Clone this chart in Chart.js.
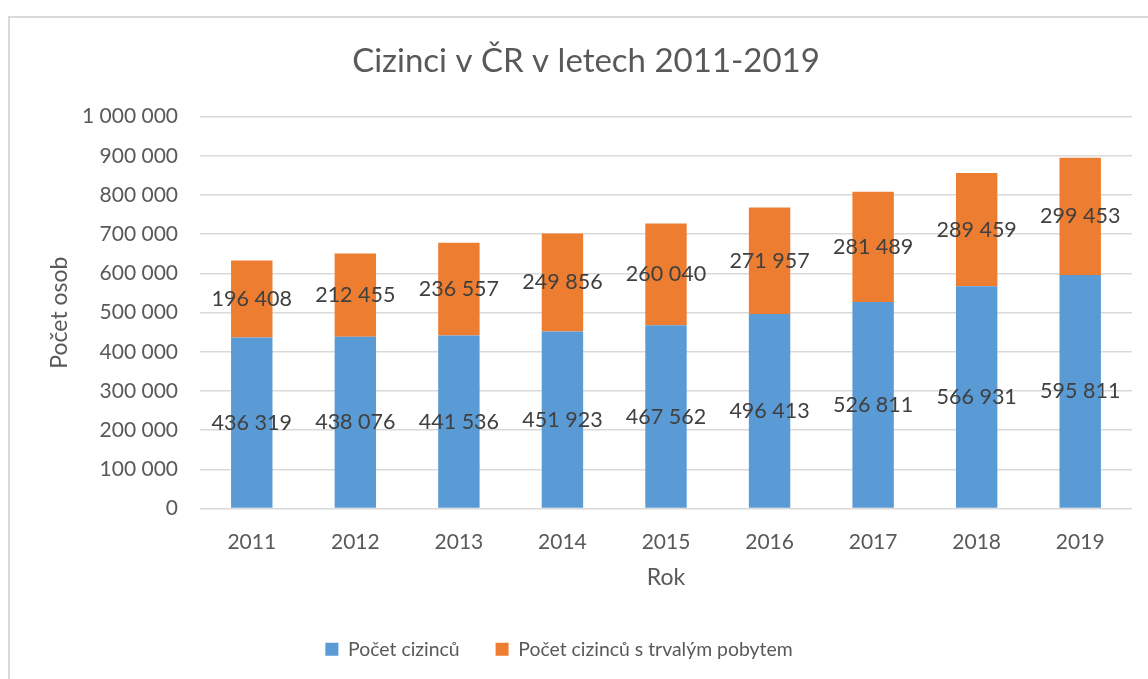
<!DOCTYPE html>
<html>
<head>
<meta charset="utf-8">
<script src="https://cdn.jsdelivr.net/npm/chart.js@4"></script>
<style>
  html, body { margin: 0; padding: 0; background: #ffffff; overflow: hidden; }
  #frame { position: absolute; left: 8px; top: 16px; width: 1200px; height: 700px; border: 2px solid #d9d9d9; box-sizing: border-box; }
  #wrap { position: absolute; left: 0; top: 0; width: 1148px; height: 679px; }
</style>
</head>
<body>
<div id="frame"></div>
<div id="wrap"><canvas id="c" width="1148" height="679"></canvas></div>
<script>
const categories = ['2011', '2012', '2013', '2014', '2015', '2016', '2017', '2018', '2019'];
const seriesNames = ['Počet cizinců', 'Počet cizinců s trvalým pobytem'];
const foreigners = [436319, 438076, 441536, 451923, 467562, 496413, 526811, 566931, 595811];
const permanent = [196408, 212455, 236557, 249856, 260040, 271957, 281489, 289459, 299453];
const titleText = 'Cizinci v ČR v letech 2011-2019';
const yTitle = 'Počet osob';
const xTitle = 'Rok';

const FONT = 'Lato';
function fmt(v) { return String(v).replace(/\B(?=(\d{3})+(?!\d))/g, ' '); }

const dataLabels = {
  id: 'dataLabels',
  afterDatasetsDraw(chart) {
    const ctx = chart.ctx;
    ctx.save();
    ctx.font = '21.5px ' + FONT;
    ctx.fillStyle = '#404040';
    ctx.textAlign = 'center';
    ctx.textBaseline = 'middle';
    chart.data.datasets.forEach((ds, di) => {
      const meta = chart.getDatasetMeta(di);
      meta.data.forEach((el, i) => {
        const y = (el.y + el.base) / 2;
        ctx.fillText(fmt(ds.data[i]), el.x, y);
      });
    });
    ctx.restore();
  }
};

const legendShift = {
  id: 'legendShift',
  afterLayout(chart) {
    if (chart.legend) { chart.legend.left -= 27; chart.legend.right -= 27; }
  }
};

new Chart(document.getElementById('c'), {
  type: 'bar',
  data: {
    labels: categories,
    datasets: [
      { label: seriesNames[0], data: foreigners, backgroundColor: '#5B9BD5', borderWidth: 0 },
      { label: seriesNames[1], data: permanent, backgroundColor: '#ED7D31', borderWidth: 0 }
    ]
  },
  options: {
    responsive: false,
    animation: false,
    devicePixelRatio: 1,
    layout: { padding: { left: 40, right: 16, top: 0, bottom: 10 } },
    datasets: { bar: { categoryPercentage: 1.0, barPercentage: 0.4 } },
    scales: {
      x: {
        stacked: true,
        grid: { display: false },
        border: { display: false },
        ticks: { color: '#595959', font: { family: FONT, size: 21 }, padding: 13 },
        title: { display: true, text: xTitle, color: '#595959', font: { family: FONT, size: 23 }, padding: { top: 0, bottom: 12 } },
        afterFit(scale) { scale.height = 95; }
      },
      y: {
        stacked: true,
        min: 0, max: 1000000,
        ticks: { stepSize: 100000, color: '#595959', font: { family: FONT, size: 21 }, padding: 22, callback: (v) => fmt(v) },
        grid: { color: '#d9d9d9', lineWidth: 1.5, drawTicks: false },
        border: { display: false },
        title: { display: true, text: yTitle, color: '#595959', font: { family: FONT, size: 23 }, padding: { top: 6, bottom: 0 } },
        afterFit(scale) { scale.width = 160; }
      }
    },
    plugins: {
      title: { display: true, text: titleText, color: '#595959', font: { family: FONT, size: 33, weight: 'normal' }, padding: { top: 42, bottom: 35 } },
      legend: {
        position: 'bottom',
        labels: { color: '#595959', font: { family: FONT, size: 19.4 }, boxWidth: 13, boxHeight: 13, padding: 36 }
      },
      tooltip: { enabled: false }
    }
  },
  plugins: [dataLabels, legendShift]
});
</script>
</body>
</html>
